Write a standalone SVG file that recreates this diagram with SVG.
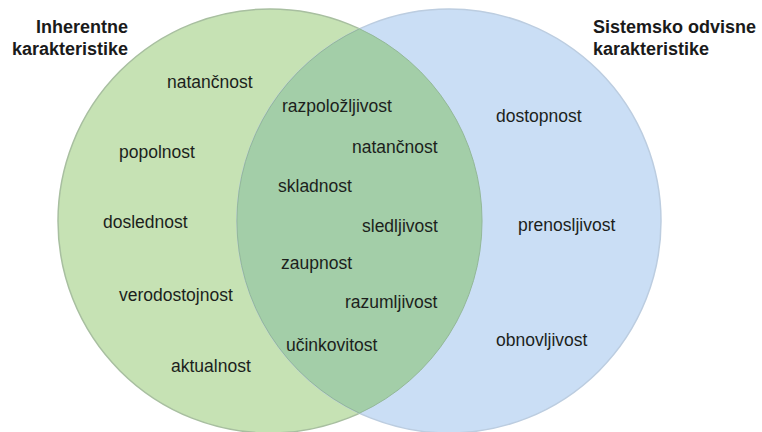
<svg xmlns="http://www.w3.org/2000/svg" width="762" height="432" viewBox="0 0 762 432">
<style>
.t{font-family:"Liberation Sans",Arial,sans-serif;font-size:17.5px;fill:#1c1f1c}
.h{font-family:"Liberation Sans",Arial,sans-serif;font-size:18px;font-weight:bold;fill:#1a1a1a}
</style>
<rect width="762" height="432" fill="#ffffff"/>
<g id="set-inherentne">
<circle cx="270" cy="221" r="212" fill="#c6e2b4" stroke="#a8bfa0" stroke-width="1.5"/>
</g>
<g id="set-sistemsko">
<circle cx="449" cy="221" r="212" fill="#cadef5" stroke="#bccde0" stroke-width="1.5"/>
</g>
<g id="set-intersection">
<path d="M359.5 28.8 A212 212 0 0 1 359.5 413.2 A212 212 0 0 1 359.5 28.8 Z" fill="#a3cea8" stroke="#93b898" stroke-width="1"/>
</g>
<g id="titles">
<text class="h" x="128" y="33" text-anchor="end">Inherentne</text>
<text class="h" x="128" y="55" text-anchor="end">karakteristike</text>
<text class="h" x="593" y="33">Sistemsko odvisne</text>
<text class="h" x="593" y="55">karakteristike</text>
</g>
<g id="labels-left">
<text class="t" x="167" y="88">natančnost</text>
<text class="t" x="119" y="158">popolnost</text>
<text class="t" x="103" y="228">doslednost</text>
<text class="t" x="119" y="301">verodostojnost</text>
<text class="t" x="171" y="372">aktualnost</text>
</g>
<g id="labels-middle">
<text class="t" x="282" y="112">razpoložljivost</text>
<text class="t" x="352" y="153">natančnost</text>
<text class="t" x="278" y="192">skladnost</text>
<text class="t" x="362" y="232">sledljivost</text>
<text class="t" x="281" y="269">zaupnost</text>
<text class="t" x="345" y="308">razumljivost</text>
<text class="t" x="286" y="351">učinkovitost</text>
</g>
<g id="labels-right">
<text class="t" x="496" y="122">dostopnost</text>
<text class="t" x="518" y="231">prenosljivost</text>
<text class="t" x="496" y="346">obnovljivost</text>
</g>
</svg>
